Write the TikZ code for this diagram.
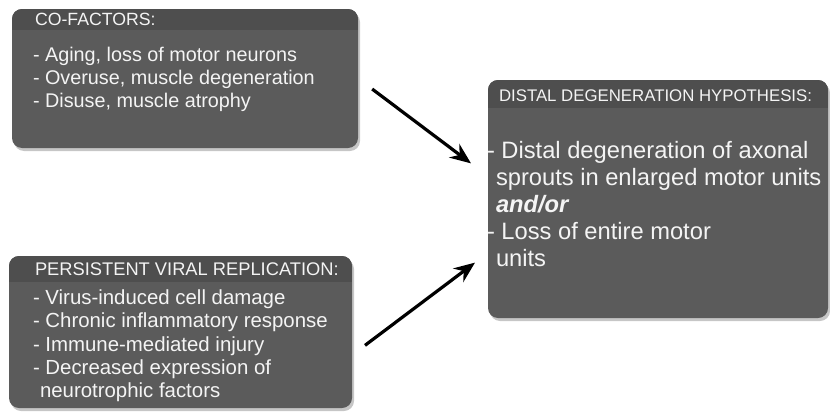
\documentclass[tikz,border=0pt]{standalone}
\usepackage{fontspec}
\setmainfont{Liberation Sans}
\usetikzlibrary{positioning}
\usetikzlibrary{arrows.meta}
\usetikzlibrary{shadows}
\definecolor{boxgray}{HTML}{5B5B5B}
\definecolor{headgray}{HTML}{4E4E4E}
\definecolor{txtgray}{HTML}{F4F4F4}
\tikzset{
pane/.style={fill=boxgray, rounded corners=10pt, inner sep=0pt,
  drop shadow={shadow xshift=2pt, shadow yshift=-3pt, opacity=0.45},
  path picture={\fill[headgray, sharp corners] (path picture bounding box.north west)
    rectangle ([yshift=-#1]path picture bounding box.north east);}},
hd/.style={text=txtgray, inner sep=0pt, anchor=base west},
flow/.style={line width=3.2pt, -{Stealth[length=21pt,width=17pt]}}
}
\begin{document}
\begin{tikzpicture}[x=1pt, y=-1pt]
\useasboundingbox (0,0) rectangle (830,415);
\node[pane=21pt, minimum width=346pt, minimum height=139pt] (cof) at (185,78.5) {};
\node[pane=26pt, minimum width=343pt, minimum height=152pt] (vir) at (180.5,332) {};
\node[pane=28pt, minimum width=340pt, minimum height=238pt] (ddh) at (658,199) {};
\node[hd, font=\fontsize{17.7}{20}\selectfont] (cof-t) at ([shift={(23,17)}]cof.north west) {CO-FACTORS:};
\node[hd, align=left, font=\fontsize{19.8}{23}\selectfont] (cof-b) at ([shift={(21,99)}]cof.north west)
  {- Aging, loss of motor neurons\\- Overuse, muscle degeneration\\- Disuse, muscle atrophy};
\node[hd, font=\fontsize{18.3}{20}\selectfont] (vir-t) at ([shift={(26,20)}]vir.north west) {PERSISTENT VIRAL REPLICATION:};
\node[hd, align=left, font=\fontsize{20.4}{23.3}\selectfont] (vir-b) at ([shift={(24,142)}]vir.north west)
  {- Virus-induced cell damage\\- Chronic inflammatory response\\- Immune-mediated injury\\
   - Decreased expression of\\\hspace*{7pt}neurotrophic factors};
\node[hd, font=\fontsize{16.8}{20}\selectfont] (ddh-t) at ([shift={(11,22)}]ddh.north west) {DISTAL DEGENERATION HYPOTHESIS:};
\node[hd, align=left, font=\fontsize{23.7}{27.2}\selectfont] (ddh-b) at ([shift={(-1,187)}]ddh.north west)
  {- Distal degeneration of axonal\\\hspace*{9pt}sprouts in enlarged motor units\\
   \hspace*{9pt}\textbf{\itshape and/or}\\- Loss of entire motor\\\hspace*{9pt}units};
\draw[flow, shorten <=17.5pt, shorten >=21pt] (cof.east) -- ([yshift=23pt]ddh.west);
\draw[flow, shorten <=16pt, shorten >=16pt] ([yshift=-23pt]vir.east) -- ([yshift=-54pt]ddh.west);
\end{tikzpicture}
\end{document}
